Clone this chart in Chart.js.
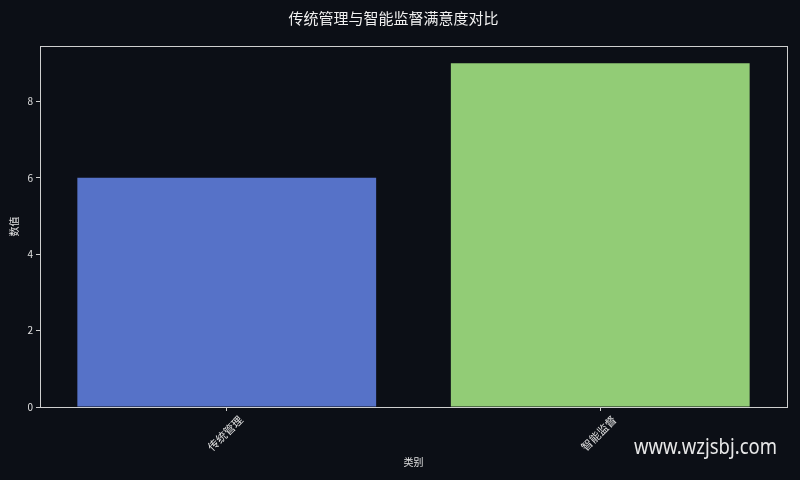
<!DOCTYPE html>
<html lang="zh">
<head>
    <meta charset="UTF-8">
    <title>传统管理与智能监督满意度对比</title>
    <script src="https://cdn.jsdelivr.net/npm/chart.js"></script>
    <style>
        * { margin: 0; padding: 0; box-sizing: border-box; }
        body { background: #0c0f16; width: 800px; height: 480px; overflow: hidden; }
        .wrap { position: relative; width: 800px; height: 480px; }
    </style>
</head>
<body>
    <div class="wrap">
        <canvas id="chart" width="800" height="480"></canvas>
    </div>

    <script>
        const categories = ['传统管理', '智能监督'];
        const values = [6, 9];
        const barColors = ['#5672c8', '#92cc76'];
        const yTicks = [0, 2, 4, 6, 8];

        const font = "'Noto Sans CJK SC', 'Noto Sans', sans-serif";

        // frame round the plot and the watermark
        const framePlugin = {
            id: 'frame',
            afterDraw(chart) {
                const { ctx, chartArea: a } = chart;
                ctx.save();
                ctx.strokeStyle = '#cfcfcf';
                ctx.lineWidth = 1;
                ctx.strokeRect(a.left + 0.5, a.top + 0.5, a.right - a.left, a.bottom - a.top);
                ctx.fillStyle = 'rgba(255,255,255,0.9)';
                ctx.font = "21px 'Noto Sans', sans-serif";
                ctx.textBaseline = 'middle';
                ctx.translate(634, 448);
                ctx.scale(0.88, 1);
                ctx.fillText('www.wzjsbj.com', 0, 0);
                ctx.restore();
            }
        };

        new Chart(document.getElementById('chart'), {
            type: 'bar',
            data: {
                labels: categories,
                datasets: [{
                    data: values,
                    backgroundColor: barColors,
                    borderWidth: 0,
                    barPercentage: 0.8,
                    categoryPercentage: 1.0
                }]
            },
            options: {
                responsive: false,
                animation: false,
                layout: { padding: { left: 0, right: 13, top: 0, bottom: 0 } },
                plugins: {
                    legend: { display: false },
                    tooltip: { enabled: false },
                    title: {
                        display: true,
                        text: '传统管理与智能监督满意度对比',
                        color: '#f0f0f0',
                        font: { family: font, size: 15, weight: 'normal' },
                        padding: { top: 9, bottom: 19 }
                    }
                },
                scales: {
                    x: {
                        offset: true,
                        afterFit(scale) { scale.height = 73; },
                        grid: { offset: false, drawOnChartArea: false, drawTicks: true, tickLength: 4, color: '#cfcfcf' },
                        border: { display: true, color: '#cfcfcf' },
                        ticks: {
                            color: '#e0e0e0',
                            font: { family: font, size: 11 },
                            minRotation: 45,
                            maxRotation: 45,
                            labelOffset: 14,
                            padding: 2
                        },
                        title: {
                            display: true,
                            text: '类别',
                            color: '#e0e0e0',
                            font: { family: font, size: 10 },
                            padding: { top: 0, bottom: 12 }
                        }
                    },
                    y: {
                        min: 0,
                        max: 9.45,
                        afterFit(scale) { scale.width = 40; },
                        afterBuildTicks(scale) {
                            scale.ticks = yTicks.map(v => ({ value: v }));
                        },
                        grid: { drawOnChartArea: false, drawTicks: true, tickLength: 4, color: '#cfcfcf' },
                        border: { display: true, color: '#cfcfcf' },
                        ticks: {
                            color: '#e0e0e0',
                            font: { family: font, size: 10 },
                            padding: 3
                        },
                        title: {
                            display: true,
                            text: '数值',
                            color: '#e0e0e0',
                            font: { family: font, size: 10 },
                            padding: { top: 8, bottom: 0 }
                        }
                    }
                }
            },
            plugins: [framePlugin]
        });
    </script>
</body>
</html>
